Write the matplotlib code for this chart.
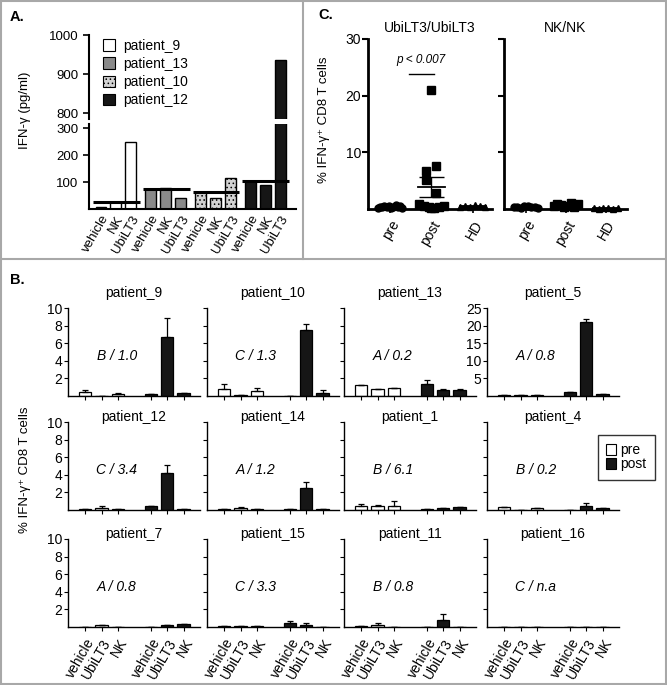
import numpy as np
import matplotlib
matplotlib.use("Agg")
import matplotlib.pyplot as plt
from matplotlib.patches import Rectangle
from matplotlib.lines import Line2D

plt.rcParams['font.family'] = ['Liberation Sans', 'DejaVu Sans']
plt.rcParams['hatch.linewidth'] = 0.6

W, H = 667, 685
fig = plt.figure(figsize=(W / 100, H / 100), dpi=100)

def add_ax(x0, y0, x1, y1):
    return fig.add_axes([x0 / W, 1 - y1 / H, (x1 - x0) / W, (y1 - y0) / H])

# ---------------- data: panel A ----------------
a_patients = ['patient_9', 'patient_13', 'patient_10', 'patient_12']
a_conditions = ['vehicle', 'NK', 'UbiLT3']
a_vehicle = [9, 74, 62, 102]
a_nk = [25, 79, 42, 90]
a_ubilt3 = [250, 42, 115, 935]
a_baseline = [27, 74, 64, 102]
a_face = ['white', '#8a8a8a', '#d2d2d2', '#161616']
a_hatch = [None, None, '....', None]

# ---------------- data: panel C ----------------
c_groups = ['pre', 'post', 'HD']
ubi_pre = [0.2, 0.3, 0.4, 0.5, 0.3, 0.6, 0.2, 0.4, 0.7, 0.3, 0.5, 0.2]
ubi_post = [21.0, 7.6, 6.7, 5.1, 2.8, 0.8, 0.6, 0.5, 0.4, 0.3, 0.2, 0.1]
ubi_hd = [0.4, 0.6, 0.3, 0.7, 0.5, 0.4]
nk_pre = [0.3, 0.4, 0.2, 0.5, 0.6, 0.3, 0.4, 0.2]
nk_post = [0.5, 0.9, 0.7, 0.4, 0.6, 1.0, 0.3, 0.8]
nk_hd = [0.1, 0.05, 0.15, 0.1, 0.05, 0.1]
# horizontal scatter offsets (layout only)
ubi_post_offsets = [0.0, 0.12, -0.12, -0.12, 0.12, -0.3, 0.3, -0.18, 0.18, -0.06, 0.06, 0.0]

# ---------------- data: panel B ----------------
b_patients = ['patient_9', 'patient_10', 'patient_13', 'patient_5',
              'patient_12', 'patient_14', 'patient_1', 'patient_4',
              'patient_7', 'patient_15', 'patient_11', 'patient_16']
b_annot = ['B / 1.0', 'C / 1.3', 'A / 0.2', 'A / 0.8',
           'C / 3.4', 'A / 1.2', 'B / 6.1', 'B / 0.2',
           'A / 0.8', 'C / 3.3', 'B / 0.8', 'C / n.a']
b_conditions = ['vehicle', 'UbiLT3', 'NK']
b_pre = [[0.5, 0.05, 0.2], [0.8, 0.1, 0.6], [1.3, 0.75, 0.95], [0.2, 0.3, 0.3],
         [0.1, 0.25, 0.15], [0.1, 0.25, 0.1], [0.5, 0.4, 0.5], [0.3, 0.05, 0.25],
         [0.05, 0.2, 0.05], [0.15, 0.15, 0.1], [0.15, 0.2, 0.02], [0.03, 0.02, 0.03]]
b_pre_err = [[0.2, 0, 0.1], [0.6, 0, 0.3], [0, 0, 0], [0, 0, 0],
             [0, 0.2, 0], [0, 0.1, 0], [0.15, 0.2, 0.55], [0, 0, 0],
             [0, 0, 0], [0, 0, 0], [0, 0.2, 0], [0, 0, 0]]
b_post = [[0.2, 6.7, 0.3], [0.05, 7.5, 0.3], [1.4, 0.65, 0.65], [1.1, 21.0, 0.7],
          [0.4, 4.2, 0.15], [0.15, 2.5, 0.15], [0.1, 0.2, 0.3], [0.05, 0.4, 0.25],
          [0.02, 0.2, 0.3], [0.4, 0.2, 0.0], [0.05, 0.83, 0.0], [0.0, 0.0, 0.0]]
b_post_err = [[0, 2.2, 0], [0, 0.7, 0.4], [0.4, 0.2, 0.2], [0, 0.8, 0],
              [0, 0.9, 0], [0, 0.7, 0], [0, 0, 0], [0, 0.35, 0],
              [0, 0, 0], [0.3, 0.2, 0], [0, 0.6, 0], [0, 0, 0]]
b_ylim = [10, 10, 10, 25, 10, 10, 10, 10, 10, 10, 10, 10]

FS = 8.5

# ================= Panel A =================
group_step = 3.35
xpos = []
for g in range(4):
    xpos.append([g * group_step + i for i in range(3)])

axA_lo = add_ax(89, 124, 296, 209)
axA_hi = add_ax(89, 35, 296, 119)
for ax in (axA_lo, axA_hi):
    for g in range(4):
        vals = [a_vehicle[g], a_nk[g], a_ubilt3[g]]
        ax.bar(xpos[g], vals, width=0.72, color=a_face[g], edgecolor='black',
               linewidth=1.0, hatch=a_hatch[g],
               label=a_patients[g])
    ax.set_xlim(-0.8, 13.1)
    ax.spines['top'].set_visible(False)
    ax.spines['right'].set_visible(False)
    ax.spines['left'].set_linewidth(1.5)
    ax.tick_params(axis='y', labelsize=FS + 1, length=4, width=1.2)
for g in range(4):
    axA_lo.plot([xpos[g][0] - 0.55, xpos[g][2] + 0.6], [a_baseline[g]] * 2,
                color='black', lw=2.2, solid_capstyle='butt')
axA_lo.set_ylim(0, 315)
axA_lo.set_yticks([100, 200, 300])
axA_lo.spines['bottom'].set_linewidth(1.5)
axA_lo.set_xticks([x for grp in xpos for x in grp])
axA_lo.set_xticklabels(a_conditions * 4, rotation=60, ha='right',
                       rotation_mode='anchor', fontsize=FS + 1)
axA_lo.tick_params(axis='x', length=0, pad=3)
axA_hi.set_ylim(785, 1000)
axA_hi.set_yticks([800, 900, 1000])
axA_hi.spines['bottom'].set_visible(False)
axA_hi.set_xticks([])
axA_hi.patch.set_alpha(0)
handles = [Rectangle((0, 0), 1, 1, facecolor=a_face[g], edgecolor='black',
                     hatch=a_hatch[g], linewidth=0.8) for g in range(4)]
axA_hi.legend(handles, a_patients, loc='upper left', bbox_to_anchor=(0.04, 1.02),
              frameon=False, fontsize=FS + 1.5, handlelength=0.9, handleheight=0.9,
              handletextpad=0.6, labelspacing=0.3, borderaxespad=0)
fig.text(25 / W, 1 - 110 / H, 'IFN-γ (pg/ml)', rotation=90, ha='center',
         va='center', fontsize=FS + 1)

# ================= Panel C =================
def dot_group(ax, x, vals, marker, size, offs=None):
    n = len(vals)
    if offs is None:
        offs = np.linspace(-0.3, 0.3, n)
    ax.plot(x + np.asarray(offs), vals, linestyle='none', marker=marker,
            color='black', markersize=size, clip_on=False, zorder=3)
    m = np.mean(vals)
    sem = np.std(vals, ddof=1) / np.sqrt(n)
    ax.plot([x - 0.32, x + 0.32], [m, m], color='black', lw=1.3, zorder=4)
    ax.errorbar([x], [m], yerr=[sem], color='black', lw=1.0, capsize=9,
                capthick=1.0, zorder=4)

axC1 = add_ax(368, 39, 492, 209)
axC2 = add_ax(504, 39, 627, 209)
c_sets = [[ubi_pre, ubi_post, ubi_hd], [nk_pre, nk_post, nk_hd]]
markers = ['o', 's', '^']
for j, (ax, sets) in enumerate(zip((axC1, axC2), c_sets)):
    for i, vals in enumerate(sets):
        offs = ubi_post_offsets if (j == 0 and i == 1) else None
        dot_group(ax, i, vals, markers[i], 5.5 if i == 1 else 5, offs)
    ax.set_ylim(0, 30)
    ax.set_yticks([10, 20, 30])
    ax.spines['top'].set_visible(False)
    ax.spines['right'].set_visible(False)
    ax.spines['left'].set_linewidth(2)
    ax.spines['bottom'].set_linewidth(2)
    ax.tick_params(axis='y', length=4, width=1.5, labelsize=FS + 1.5, pad=1)
    ax.set_xticks(range(3))
    ax.set_xticklabels(c_groups, rotation=60, ha='right', rotation_mode='anchor',
                       fontsize=FS + 1.5)
    ax.tick_params(axis='x', length=3, width=1.2)
axC1.set_xlim(-0.53, 2.46)
axC2.set_xlim(-0.55, 2.53)
axC2.set_yticklabels([])
axC1.set_title('UbiLT3/UbiLT3', fontsize=FS + 1.5, pad=5)
axC2.set_title('NK/NK', fontsize=FS + 1.5, pad=5)
axC1.plot([0.45, 1.05], [23.8, 23.8], color='black', lw=1.0)
axC1.text(0.75, 25.3, 'p < 0.007', ha='center', va='bottom', fontsize=FS,
          style='italic')
fig.text(324 / W, 1 - 120 / H, '% IFN-γ⁺ CD8 T cells', rotation=90,
         ha='center', va='center', fontsize=FS + 1)

# ================= Panel B =================
col_x = [68, 207, 344, 487]
row_y = [308, 422, 539]
title_off = [15, 5, 5]
pre_x = [0, 1, 2]
post_x = [4, 5, 6]
for k, name in enumerate(b_patients):
    r, c = divmod(k, 4)
    ax = add_ax(col_x[c], row_y[r], col_x[c] + 132, row_y[r] + 88)
    ax.bar(pre_x, b_pre[k], width=0.75, color='white', edgecolor='black',
           linewidth=0.9, yerr=[[0, 0, 0], b_pre_err[k]], capsize=2.5,
           error_kw=dict(elinewidth=0.9, capthick=0.9))
    ax.bar(post_x, b_post[k], width=0.75, color='#161616', edgecolor='black',
           linewidth=0.9, yerr=[[0, 0, 0], b_post_err[k]], capsize=2.5,
           error_kw=dict(elinewidth=0.9, capthick=0.9))
    ax.set_xlim(-1.05, 7.0)
    ymax = b_ylim[k]
    ax.set_ylim(0, ymax)
    if ymax == 25:
        ax.set_yticks([5, 10, 15, 20, 25])
    else:
        ax.set_yticks([2, 4, 6, 8, 10])
    ax.spines['top'].set_visible(False)
    ax.spines['right'].set_visible(False)
    ax.spines['left'].set_linewidth(1.0)
    ax.spines['bottom'].set_linewidth(1.0)
    ax.tick_params(axis='y', length=3, width=0.8, labelsize=FS + 1.5, pad=1)
    ax.tick_params(axis='x', length=3, width=0.8)
    if c != 0 and ymax != 25:
        ax.set_yticklabels([])
    ax.set_xticks(pre_x + post_x)
    if r == 2:
        ax.set_xticklabels(b_conditions * 2, rotation=60, ha='right',
                           rotation_mode='anchor', fontsize=FS + 1.5)
    else:
        ax.set_xticklabels([])
    fig.text((col_x[c] + 66) / W, 1 - (row_y[r] - title_off[r]) / H, name,
             ha='center', va='center', fontsize=FS + 1.5)
    ax.text(0.37, 0.45, b_annot[k], transform=ax.transAxes, ha='center',
            va='center', fontsize=FS + 1.5, style='italic')

fig.text(25 / W, 1 - 470 / H, '% IFN-γ⁺ CD8 T cells', rotation=90,
         ha='center', va='center', fontsize=FS + 1)

# legend pre/post
leg_handles = [Rectangle((0, 0), 1, 1, facecolor='white', edgecolor='black', lw=0.8),
               Rectangle((0, 0), 1, 1, facecolor='#161616', edgecolor='black', lw=0.8)]
fig.legend(leg_handles, ['pre', 'post'], loc='upper left',
           bbox_to_anchor=(598 / W, 1 - 435 / H), fontsize=FS + 1.5,
           frameon=True, fancybox=False, edgecolor='black', handlelength=0.7,
           handleheight=0.9, handletextpad=0.3, labelspacing=0.0,
           borderpad=0.6, borderaxespad=0).get_frame().set_linewidth(1.0)

# panel labels
fig.text(10 / W, 1 - 17 / H, 'A.', fontsize=FS + 2, fontweight='bold',
         ha='left', va='center')
fig.text(318 / W, 1 - 15 / H, 'C.', fontsize=FS + 2, fontweight='bold',
         ha='left', va='center')
fig.text(10 / W, 1 - 280 / H, 'B.', fontsize=FS + 2, fontweight='bold',
         ha='left', va='center')

# frame lines
fc = '#a8a8a8'
fig.add_artist(Line2D([0.5 / W, 0.5 / W], [0, 1], color=fc, lw=1.5))
fig.add_artist(Line2D([1 - 1 / W, 1 - 1 / W], [0, 1], color=fc, lw=1.5))
fig.add_artist(Line2D([0, 1], [1 - 0.5 / H, 1 - 0.5 / H], color=fc, lw=1.5))
fig.add_artist(Line2D([0, 1], [1 / H, 1 / H], color=fc, lw=1.5))
fig.add_artist(Line2D([0, 1], [1 - 259 / H, 1 - 259 / H], color=fc, lw=1.5))
fig.add_artist(Line2D([303 / W, 303 / W], [1 - 259 / H, 1], color=fc, lw=1.5))

fig.savefig('out.png', dpi=100)
